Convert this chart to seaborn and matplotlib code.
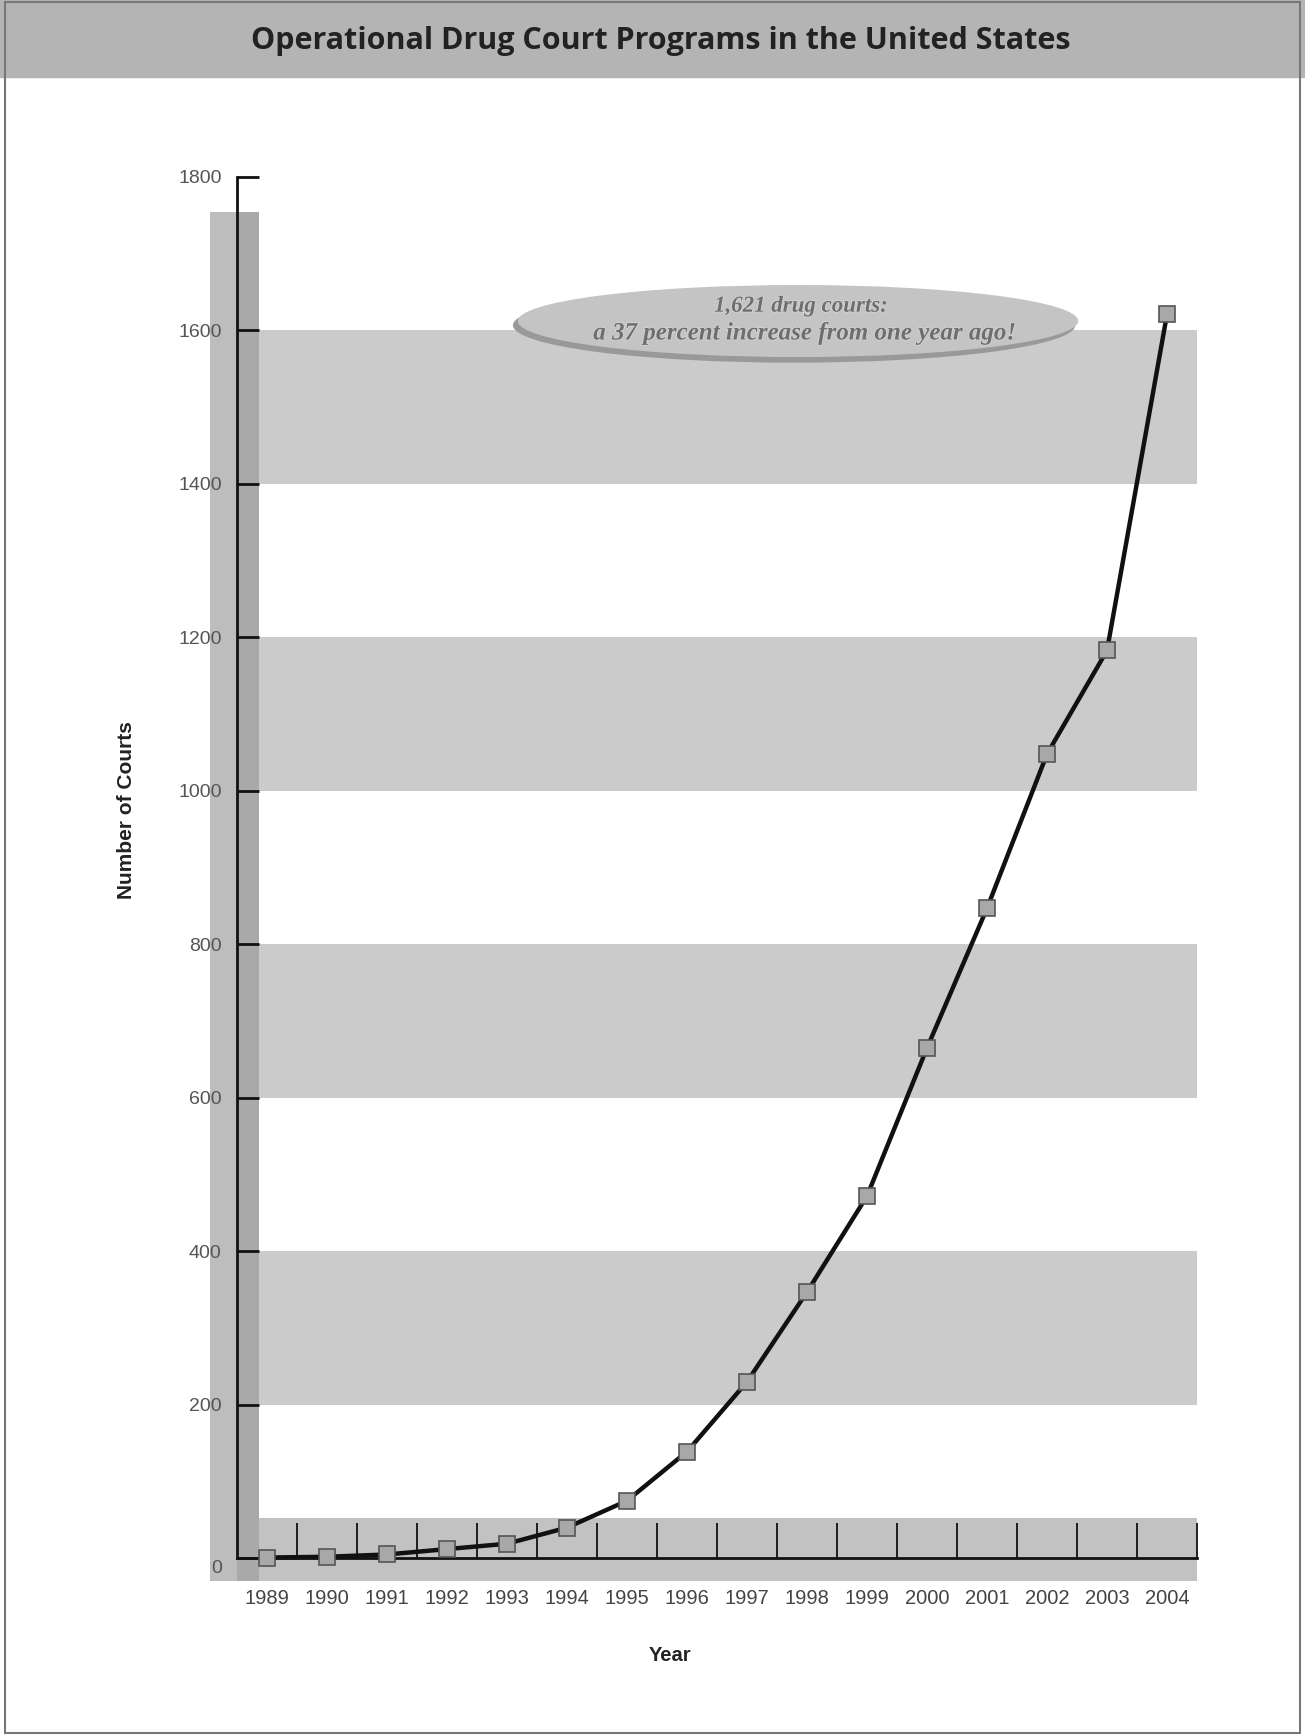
import matplotlib
matplotlib.use("Agg")
import matplotlib.pyplot as plt
import matplotlib.patches as mpatches
import matplotlib.patheffects as pe
from matplotlib.transforms import ScaledTranslation
import pandas as pd
import seaborn as sns

# Operational drug courts per year
years = [1989, 1990, 1991, 1992, 1993, 1994, 1995, 1996,
         1997, 1998, 1999, 2000, 2001, 2002, 2003, 2004]
courts = [1, 2, 5, 12, 19, 40, 75, 139,
          230, 347, 472, 665, 847, 1048, 1183, 1621]
y_ticks = [0, 200, 400, 600, 800, 1000, 1200, 1400, 1600, 1800]
year_labels = [str(y) for y in years]

title = "Operational Drug Court Programs in the United States"
x_label = "Year"
y_label = "Number of Courts"

sns.set_style("white")
plt.rcParams["font.family"] = ["Liberation Sans", "DejaVu Sans"]

W, H = 1305, 1735
fig = plt.figure(figsize=(W / 100, H / 100), dpi=100)
fig.patch.set_facecolor("white")


def px_rect(left, top, right, bottom):
    return [left / W, 1 - bottom / H, (right - left) / W, (bottom - top) / H]


ax = fig.add_axes(px_rect(207, 177, 1197, 1589))
ax.set_facecolor("none")
ax.set_axisbelow(False)
x0, x1 = years[0] - 0.5, years[-1] + 0.5
ax.set_xlim(years[0] - 1.0, x1)
ax.set_ylim(-40, y_ticks[-1])

# alternating horizontal bands behind the curve
for lo, hi in zip(y_ticks[1::2], y_ticks[2::2]):
    ax.fill_between([x0, x1], lo, hi, color="#cbcbcb", lw=0, zorder=0)
ax.fill_between([years[0] - 0.95, x1], -29, 53, color="#c2c2c2", lw=0, zorder=0)

# shaded strip along the value axis
ax.axvspan(years[0] - 0.95, x0, ymin=0.006, ymax=0.975, color="#bdbdbd", lw=0, zorder=0)
ax.axvspan(x0, x0 + 0.37, ymin=0.006, ymax=0.975, color="#a9a9a9", lw=0, zorder=0)

df = pd.DataFrame({"Year": years, "Courts": courts})
sns.lineplot(data=df, x="Year", y="Courts", ax=ax, color="#111111",
             linewidth=3.2, marker="s", markersize=11.5,
             markerfacecolor="#a8a8a8", markeredgecolor="#555555",
             markeredgewidth=1.2, zorder=5, clip_on=False)

for s in ["top", "right"]:
    ax.spines[s].set_visible(False)
ax.spines["left"].set_position(("data", x0))
ax.spines["left"].set_bounds(0, y_ticks[-1])
ax.spines["bottom"].set_position(("data", 0))
ax.spines["bottom"].set_bounds(x0, x1)
for s in ["left", "bottom"]:
    ax.spines[s].set_linewidth(2.0)
    ax.spines[s].set_color("#111111")
    ax.spines[s].set_zorder(4)

ax.tick_params(which="both", bottom=True, left=True, top=False, right=False)
ax.set_yticks(y_ticks)
ax.set_yticklabels([str(v) for v in y_ticks])
ax.tick_params(axis="y", direction="in", length=16, width=2.0, pad=11,
               labelsize=14, labelcolor="#555555", color="#111111")
ax.set_xticks(years)
ax.set_xticklabels(year_labels)
ax.tick_params(axis="x", which="major", length=0, pad=22,
               labelsize=14.5, labelcolor="#444444")
ax.set_xticks([y + 0.5 for y in years], minor=True)
ax.tick_params(axis="x", which="minor", direction="in", length=25,
               width=1.3, color="#111111")
ax.set_xlabel("")
ax.set_ylabel("")

# the zero label sits a little below the baseline
zero_lbl = ax.get_yticklabels()[0]
zero_lbl.set_transform(zero_lbl.get_transform()
                       + ScaledTranslation(0, -0.08, fig.dpi_scale_trans))

# callout for the latest year
ell_kw = dict(transform=ax.transAxes, lw=0, zorder=3)
ax.add_patch(mpatches.Ellipse((0.593, 0.895), 0.568, 0.053, color="#999999", **ell_kw))
ax.add_patch(mpatches.Ellipse((0.597, 0.898), 0.566, 0.051, color="#c4c4c4", **ell_kw))
growth = round((courts[-1] / courts[-2] - 1) * 100)
call_kw = dict(transform=ax.transAxes, ha="center", va="center",
               family=["Liberation Serif", "DejaVu Serif"], style="italic",
               weight="bold", color="#6e6e6e", zorder=6,
               path_effects=[pe.withStroke(linewidth=1.2, foreground="#d4d4d4")])
ax.text(0.600, 0.9085, f"{courts[-1]:,} drug courts:", fontsize=16.5, **call_kw)
ax.text(0.604, 0.8895, f"a {growth} percent increase from one year ago!",
        fontsize=18, **call_kw)

# header banner and frame
fig.patches.append(mpatches.Rectangle((0, 1 - 77 / H), 1, 77 / H,
                                      transform=fig.transFigure,
                                      color="#b4b4b4", zorder=0))
fig.patches.append(mpatches.Rectangle((5 / W, 2 / H), 1295 / W, (H - 4) / H,
                                      transform=fig.transFigure, fill=False,
                                      edgecolor="#777777", lw=1.5, zorder=1))
fig.text(661 / W, 1 - 41 / H, title, ha="center", va="center",
         family=["Open Sans", "DejaVu Sans"], weight="bold",
         fontsize=22, color="#222222")

fig.text(126 / W, 1 - 810 / H, y_label, rotation=90, ha="center", va="center",
         fontsize=15, weight="bold", color="#222222")
fig.text(670 / W, 1 - 1655 / H, x_label, ha="center", va="center",
         fontsize=14.5, weight="bold", color="#222222")

fig.savefig("out.png", dpi=100)
